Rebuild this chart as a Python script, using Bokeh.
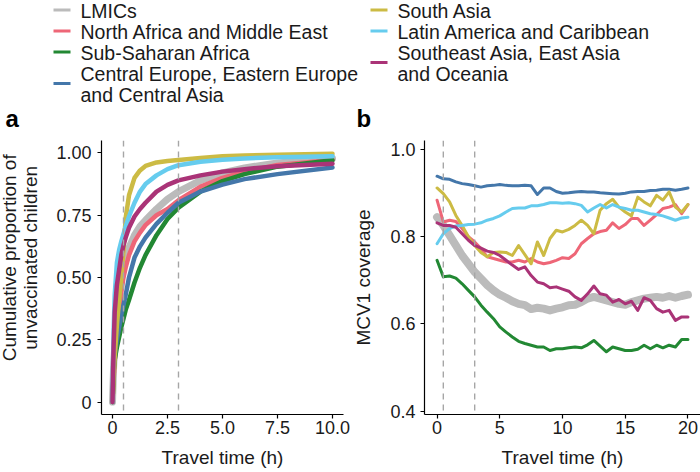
import math
from bokeh.plotting import figure
from bokeh.models import Range1d, FixedTicker, Span, ColumnDataSource
from bokeh.layouts import column, row
from bokeh.embed import file_html
from bokeh.resources import INLINE
from bokeh.core.properties import value

FONT = "Liberation Sans"
INK = "#1a1a1a"

# ---------------- data ----------------
region_names = [
    "LMICs",
    "North Africa and Middle East",
    "Sub-Saharan Africa",
    "Central Europe, Eastern Europe\nand Central Asia",
    "South Asia",
    "Latin America and Caribbean",
    "Southeast Asia, East Asia\nand Oceania",
]
region_colors = ["#BBBBBB", "#EE6677", "#228833", "#4477AA", "#CCBB44", "#66CCEE", "#AA3377"]
legend_column = [0, 0, 0, 0, 1, 1, 1]

# panel a: cumulative proportion of unvaccinated children vs travel time (h)
time_a = [0, 0.05, 0.1, 0.2, 0.3, 0.4, 0.5, 0.6, 0.75, 1, 1.25, 1.5, 2, 2.5, 3, 4, 5, 6, 7.5, 10]
cum_lmics = [0, 0.14, 0.22, 0.34, 0.43, 0.49, 0.54, 0.58, 0.62, 0.67, 0.705, 0.73, 0.775, 0.815, 0.845, 0.89, 0.92, 0.94, 0.96, 0.978]
cum_name = [0, 0.09, 0.16, 0.27, 0.36, 0.44, 0.50, 0.54, 0.59, 0.645, 0.68, 0.71, 0.75, 0.775, 0.81, 0.865, 0.90, 0.925, 0.952, 0.972]
cum_ssa = [0, 0.12, 0.17, 0.22, 0.26, 0.30, 0.335, 0.37, 0.41, 0.48, 0.54, 0.59, 0.67, 0.735, 0.78, 0.845, 0.887, 0.915, 0.945, 0.971]
cum_cee = [0, 0.12, 0.19, 0.25, 0.30, 0.35, 0.39, 0.43, 0.50, 0.58, 0.625, 0.66, 0.715, 0.76, 0.80, 0.845, 0.873, 0.895, 0.915, 0.942]
cum_sa = [0, 0.10, 0.18, 0.31, 0.41, 0.50, 0.61, 0.74, 0.83, 0.90, 0.93, 0.948, 0.962, 0.968, 0.972, 0.98, 0.987, 0.99, 0.993, 0.997]
cum_lac = [0, 0.28, 0.43, 0.56, 0.61, 0.645, 0.675, 0.705, 0.745, 0.80, 0.845, 0.875, 0.91, 0.935, 0.951, 0.965, 0.973, 0.978, 0.983, 0.987]
cum_seao = [0, 0.22, 0.36, 0.47, 0.53, 0.59, 0.63, 0.66, 0.70, 0.745, 0.775, 0.80, 0.845, 0.872, 0.89, 0.91, 0.925, 0.935, 0.947, 0.957]

# panel b: MCV1 coverage vs travel time (h)
time_b = [0, 0.5, 1, 1.5, 2, 2.5, 3, 3.5, 4, 4.5, 5, 5.5, 6, 6.5, 7, 7.5, 8, 8.5, 9, 9.5,
          10, 10.5, 11, 11.5, 12, 12.5, 13, 13.5, 14, 14.5, 15, 15.5, 16, 16.5, 17, 17.5,
          18, 18.5, 19, 19.5, 20]
mcv_lmics = [0.845, 0.826, 0.803, 0.780, 0.757, 0.738, 0.719, 0.704, 0.689, 0.677, 0.667, 0.660, 0.652, 0.646,
             0.643, 0.634, 0.637, 0.635, 0.631, 0.635, 0.638,
             0.643, 0.644, 0.650, 0.658, 0.662, 0.658, 0.654, 0.650, 0.646, 0.644, 0.650, 0.654, 0.658,
             0.660, 0.662, 0.660, 0.664, 0.660, 0.664, 0.667]
mcv_name = [0.884, 0.834, 0.838, 0.835, 0.819, 0.800, 0.788, 0.773, 0.754, 0.750, 0.746, 0.742, 0.742, 0.746,
            0.742, 0.750, 0.742, 0.738, 0.741, 0.746, 0.752,
            0.750, 0.761, 0.784, 0.796, 0.807, 0.812, 0.815, 0.832, 0.819, 0.828, 0.842, 0.842, 0.826,
            0.838, 0.851, 0.865, 0.868, 0.874, 0.853, 0.874]
mcv_ssa = [0.746, 0.708, 0.710, 0.705, 0.692, 0.677, 0.662, 0.643, 0.627, 0.612, 0.593, 0.581, 0.570, 0.560,
           0.555, 0.551, 0.547, 0.547, 0.539, 0.543, 0.543,
           0.545, 0.547, 0.545, 0.552, 0.562, 0.549, 0.536, 0.547, 0.543, 0.539, 0.539, 0.542, 0.551,
           0.543, 0.551, 0.545, 0.551, 0.547, 0.564, 0.564]
mcv_cee = [0.939, 0.933, 0.932, 0.926, 0.922, 0.920, 0.917, 0.914, 0.917, 0.918, 0.920, 0.918, 0.917, 0.917,
           0.918, 0.917, 0.897, 0.912, 0.912, 0.904, 0.900,
           0.901, 0.903, 0.904, 0.903, 0.903, 0.901, 0.900, 0.899, 0.898, 0.900, 0.903, 0.904, 0.904,
           0.906, 0.907, 0.909, 0.909, 0.907, 0.909, 0.912]
mcv_sa = [0.912, 0.899, 0.880, 0.849, 0.826, 0.800, 0.780, 0.764, 0.754, 0.764, 0.765, 0.764, 0.757, 0.780,
          0.759, 0.738, 0.788, 0.757, 0.796, 0.815, 0.811,
          0.817, 0.826, 0.838, 0.826, 0.807, 0.861, 0.876, 0.886, 0.868, 0.857, 0.848, 0.891, 0.880,
          0.871, 0.895, 0.884, 0.903, 0.868, 0.857, 0.874]
mcv_lac = [0.784, 0.807, 0.819, 0.825, 0.826, 0.828, 0.829, 0.832, 0.838, 0.842, 0.848, 0.857, 0.865, 0.866,
           0.866, 0.871, 0.871, 0.874, 0.878, 0.878, 0.877,
           0.878, 0.876, 0.872, 0.857, 0.866, 0.874, 0.866, 0.874, 0.868, 0.865, 0.861, 0.861, 0.857,
           0.853, 0.851, 0.848, 0.843, 0.838, 0.843, 0.845]
mcv_seao = [0.832, 0.826, 0.826, 0.822, 0.807, 0.792, 0.780, 0.774, 0.767, 0.764, 0.757, 0.746, 0.735, 0.725,
            0.731, 0.711, 0.696, 0.692, 0.683, 0.685, 0.680,
            0.675, 0.662, 0.654, 0.669, 0.687, 0.669, 0.666, 0.650, 0.656, 0.646, 0.652, 0.631, 0.660,
            0.654, 0.635, 0.627, 0.631, 0.608, 0.616, 0.616]

cutoff_hours = [0.5, 3]

a_xticks = [0, 2.5, 5, 7.5, 10]
a_xlabels = ["0", "2.5", "5.0", "7.5", "10.0"]
a_yticks = [0, 0.25, 0.5, 0.75, 1.0]
a_ylabels = ["0", "0.25", "0.50", "0.75", "1.00"]
b_xticks = [0, 5, 10, 15, 20]
b_xlabels = ["0", "5", "10", "15", "20"]
b_yticks = [0.4, 0.6, 0.8, 1.0]
b_ylabels = ["0.4", "0.6", "0.8", "1.0"]

a_ytitle_lines = ["Cumulative proportion of", "unvaccinated children"]
b_ytitle = "MCV1 coverage"
x_title = "Travel time (h)"
panel_letters = ["a", "b"]

series_a = [cum_lmics, cum_name, cum_ssa, cum_cee, cum_sa, cum_lac, cum_seao]
series_b = [mcv_lmics, mcv_name, mcv_ssa, mcv_cee, mcv_sa, mcv_lac, mcv_seao]

# ---------------- layout constants ----------------
W_TOTAL = 700
H_LEG = 138
H_PANEL = 334
W_PANEL = 350
W_YTITLE = 46


def style(p, xt, xl, yt, yl, xlab, ylab, ylab_standoff, ytick_standoff):
    p.grid.visible = False
    p.outline_line_color = None
    p.background_fill_color = "white"
    p.border_fill_color = "white"
    for ax, ticks, labels in ((p.xaxis[0], xt, xl), (p.yaxis[0], yt, yl)):
        ax.ticker = FixedTicker(ticks=ticks)
        ax.major_label_overrides = {t: s for t, s in zip(ticks, labels)}
        ax.axis_line_color = "black"
        ax.axis_line_width = 1.2
        ax.major_tick_line_color = "black"
        ax.major_tick_line_width = 1.2
        ax.major_tick_out = 4
        ax.major_tick_in = 0
        ax.minor_tick_out = 0
        ax.minor_tick_in = 0
        ax.major_label_text_font = FONT
        ax.major_label_text_font_size = "18px"
        ax.major_label_text_color = INK
        ax.axis_label_text_font = FONT
        ax.axis_label_text_font_size = "19px"
        ax.axis_label_text_font_style = "normal"
        ax.axis_label_text_color = INK
        ax.axis_label_text_line_height = 1.0
    p.xaxis.axis_label = xlab
    if ylab:
        p.yaxis.axis_label = ylab
    p.xaxis.major_label_standoff = 2
    p.xaxis.axis_label_standoff = 10
    p.yaxis.major_label_standoff = ytick_standoff
    p.yaxis.axis_label_standoff = ylab_standoff
    for c in cutoff_hours:
        p.add_layout(Span(location=c, dimension="height", line_color="#A6A6A6",
                          line_dash="6 5", line_width=1.4))


def blank(width, height):
    f = figure(width=width, height=height, x_range=Range1d(0, width), y_range=Range1d(height, 0),
               toolbar_location=None, output_backend="svg", min_border=0,
               x_axis_location=None, y_axis_location=None)
    f.grid.visible = False
    f.outline_line_color = None
    return f


# ---------------- legend / panel letters ----------------
leg = blank(W_TOTAL, H_LEG)

key_x0 = [53, 370]
key_x1 = [70, 387]
text_x = [80, 397]
ROW0 = 10.5     # vertical centre of the first legend line
PITCH = 21.0
line_count = [0, 0]
seg = dict(x0=[], x1=[], y=[], color=[])
txt = dict(x=[], y=[], text=[])
for name, colr, c in zip(region_names, region_colors, legend_column):
    lines = name.split("\n")
    k = line_count[c]
    centres = [ROW0 + PITCH * (k + j) for j in range(len(lines))]
    for yc, t in zip(centres, lines):
        txt["x"].append(text_x[c])
        txt["y"].append(yc)
        txt["text"].append(t)
    seg["x0"].append(key_x0[c])
    seg["x1"].append(key_x1[c])
    seg["y"].append((centres[0] + centres[-1]) / 2 - 1)
    seg["color"].append(colr)
    line_count[c] += len(lines)

leg.segment(x0="x0", y0="y", x1="x1", y1="y", color="color", line_width=3,
            source=ColumnDataSource(seg))
leg.text(x="x", y="y", text="text", source=ColumnDataSource(txt),
         text_font=value(FONT), text_font_size=value("19.5px"), text_color=INK,
         text_baseline="middle", text_align="left", text_line_height=1.0)

leg.text(x=[5, 356], y=[118, 118], text=panel_letters,
         text_font=value(FONT), text_font_size=value("24px"), text_font_style="bold",
         text_color="black", text_baseline="middle", text_align="left", text_line_height=1.0)

# ---------------- y title of panel a (two lines, rotated) ----------------
yt = blank(W_YTITLE, H_PANEL)
yt.text(x=[8.7, 30.3], y=[143, 143], text=a_ytitle_lines, angle=math.pi / 2,
        text_font=value(FONT), text_font_size=value("19px"), text_color=INK,
        text_baseline="middle", text_align="center", text_line_height=1.0)

# ---------------- panel a ----------------
pa = figure(width=W_PANEL - W_YTITLE, height=H_PANEL, x_range=Range1d(-0.5, 10.5), y_range=Range1d(-0.05, 1.05),
            toolbar_location=None, output_backend="svg",
            min_border_left=101 - W_YTITLE, min_border_right=7, min_border_top=2, min_border_bottom=58)
style(pa, a_xticks, a_xlabels, a_yticks, a_ylabels, x_title, None, 0, 6)
for vals, colr in zip(series_a, region_colors):
    lw = 7 if colr == region_colors[0] else 4.5
    pa.line(time_a, vals, line_color=colr, line_width=lw, line_join="round", line_cap="round")

# ---------------- panel b ----------------
pb = figure(width=W_PANEL, height=H_PANEL, x_range=Range1d(-1, 21), y_range=Range1d(0.392, 1.021),
            toolbar_location=None, output_backend="svg",
            min_border_left=73, min_border_right=0, min_border_top=2, min_border_bottom=58)
style(pb, b_xticks, b_xlabels, b_yticks, b_ylabels, x_title, b_ytitle, 13, 5)
for vals, colr in zip(series_b, region_colors):
    lw = 8 if colr == region_colors[0] else 3
    pb.line(time_b, vals, line_color=colr, line_width=lw, line_join="round", line_cap="round")

layout = column(leg, row(yt, pa, pb))
open("out.html", "w").write(file_html(layout, INLINE))
